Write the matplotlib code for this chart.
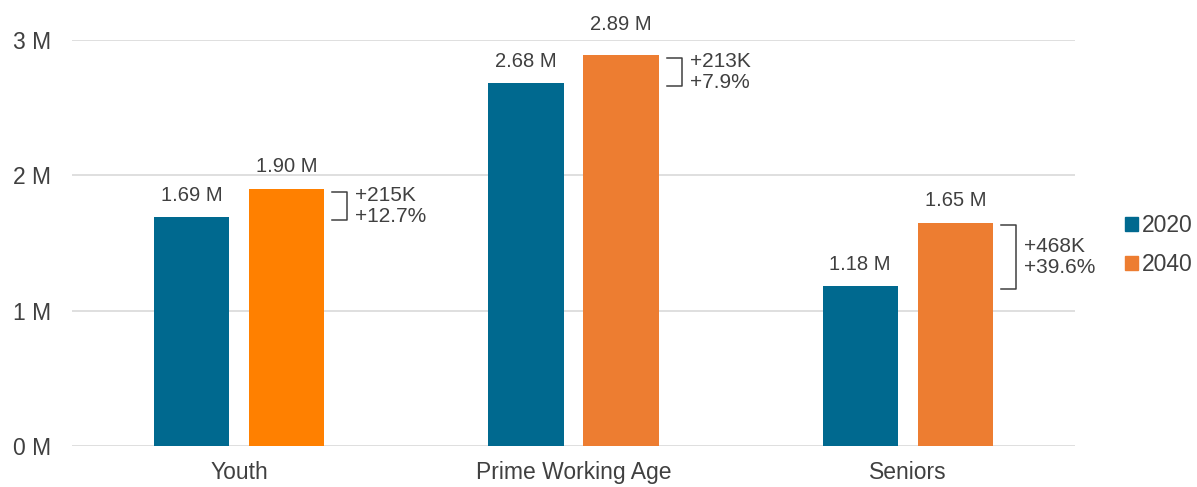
import matplotlib.pyplot as plt
from matplotlib.patches import Patch

plt.rcParams['font.family'] = ['Liberation Sans', 'DejaVu Sans']

categories = ["Youth", "Prime Working Age", "Seniors"]
series = ["2020", "2040"]
pop_2020 = [1.69, 2.68, 1.18]
pop_2040 = [1.90, 2.89, 1.65]
labels_2020 = ["1.69 M", "2.68 M", "1.18 M"]
labels_2040 = ["1.90 M", "2.89 M", "1.65 M"]
change_abs = ["+215K", "+213K", "+468K"]
change_pct = ["+12.7%", "+7.9%", "+39.6%"]
yticks = [0, 1, 2, 3]
ytick_labels = ["0 M", "1 M", "2 M", "3 M"]

TEXT = "#404040"
BLUE = "#00698F"
ORANGE = "#ED7D31"
colors_2040 = ["#FF8000", ORANGE, ORANGE]

fig = plt.figure(figsize=(11.97, 4.87), dpi=100)
ax = fig.add_axes([72 / 1197, 41 / 487, (1075 - 72) / 1197, 406 / 487])

w = 0.225
off = 0.1424
x = list(range(len(categories)))
x20 = [i - off for i in x]
x40 = [i + off for i in x]
ax.bar(x20, pop_2020, width=w, color=BLUE, zorder=3)
ax.bar(x40, pop_2040, width=w, color=colors_2040, zorder=3)

ax.set_xlim(-0.5, 2.5)
ax.set_ylim(0, 3)
ax.set_yticks(yticks)
ax.set_yticklabels(ytick_labels)
ax.set_xticks(x)
ax.set_xticklabels(categories)
ax.tick_params(axis='y', length=0, pad=15, labelsize=16.5, labelcolor=TEXT)
ax.tick_params(axis='x', length=0, pad=11, labelsize=16.5, labelcolor=TEXT)
ax.grid(axis='y', color="#D9D9D9", linewidth=1.2, zorder=0)
for s in ax.spines.values():
    s.set_visible(False)

# value labels (2.89 sits a bit higher in the original)
extra = {(1, 1): 6}
for i in x:
    ax.annotate(labels_2020[i], (x20[i], pop_2020[i]), xytext=(0, 9),
                textcoords='offset points', ha='center', va='bottom',
                fontsize=14.5, color=TEXT, annotation_clip=False)
    ax.annotate(labels_2040[i], (x40[i], pop_2040[i]), xytext=(0, 9 + extra.get((i, 1), 0)),
                textcoords='offset points', ha='center', va='bottom',
                fontsize=14.5, color=TEXT, annotation_clip=False)

# brackets with change text
for i in x:
    right = x40[i] + w / 2
    x0 = right + 8 / 333.5
    x1 = right + 23 / 333.5
    top = pop_2040[i] - 0.02
    bot = pop_2020[i] - 0.02
    ax.plot([x0, x1, x1, x0], [top, top, bot, bot], color=TEXT, lw=1.1,
            clip_on=False, zorder=4)
    ax.text(right + 31 / 333.5, (top + bot) / 2,
            change_abs[i] + "\n" + change_pct[i], ha='left', va='center',
            fontsize=15, color=TEXT, linespacing=1.12)

handles = [Patch(color=BLUE), Patch(color=ORANGE)]
leg = fig.legend(handles, series, loc='center left', bbox_to_anchor=(1116 / 1197, 242 / 487),
                 frameon=False, fontsize=16.5, handlelength=0.55, handleheight=0.55,
                 handletextpad=0.2, labelspacing=0.72, borderaxespad=0)
for t in leg.get_texts():
    t.set_color(TEXT)

fig.savefig("out.png", dpi=100)
